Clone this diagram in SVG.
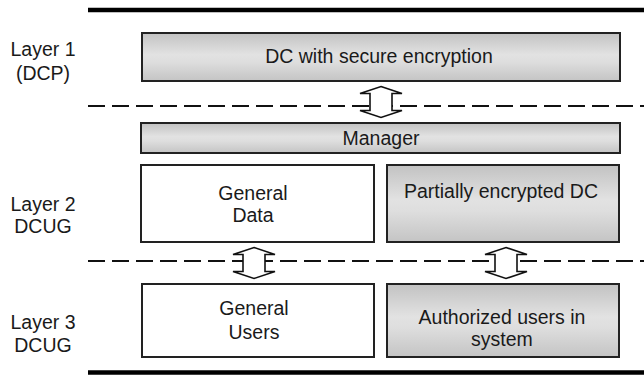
<svg xmlns="http://www.w3.org/2000/svg" width="644" height="376" viewBox="0 0 644 376">
  <style>
    .lbl { font-family: "Liberation Sans", Arial, sans-serif; font-size: 19.5px; fill: #1a1a1a; text-anchor: middle; }
    .box { stroke: #222; stroke-width: 2; }
    .gray { fill: url(#shade); }
    .white { fill: #fff; }
    .rule { stroke: #000; stroke-width: 4.5; }
    .dash { stroke: #111; stroke-width: 2.2; stroke-dasharray: 17 7; fill: none; }
    .arrow { fill: #fff; stroke: #111; stroke-width: 1.6; stroke-linejoin: miter; }
  </style>
  <defs>
    <linearGradient id="shade" x1="0" y1="0" x2="0" y2="1">
      <stop offset="0" stop-color="#c2c2c2"/>
      <stop offset="0.45" stop-color="#e2e2e2"/>
      <stop offset="0.6" stop-color="#dedede"/>
      <stop offset="1" stop-color="#c4c4c4"/>
    </linearGradient>
    <!-- hollow double-headed arrow, centred at origin, 31 tall -->
    <polygon id="dbl" class="arrow" points="0,-15.5 21,-8.5 11,-8.5 11,8.5 21,8.5 0,15.5 -21,8.5 -11,8.5 -11,-8.5 -21,-8.5"/>
  </defs>

  <rect width="644" height="376" fill="#fff"/>

  <!-- layer boundaries -->
  <g id="rules">
    <line class="rule" x1="88" y1="10" x2="644" y2="10"/>
    <line class="rule" x1="88" y1="372.5" x2="644" y2="372.5"/>
  </g>

  <!-- layer labels -->
  <g id="labels">
    <text class="lbl" x="43" y="56">Layer 1</text>
    <text class="lbl" x="43" y="80">(DCP)</text>
    <text class="lbl" x="43" y="211">Layer 2</text>
    <text class="lbl" x="43" y="233">DCUG</text>
    <text class="lbl" x="43" y="329">Layer 3</text>
    <text class="lbl" x="43" y="352">DCUG</text>
  </g>

  <g id="connectors">
    <line class="dash" x1="88" y1="106" x2="644" y2="106"/>
    <line class="dash" x1="88" y1="261" x2="644" y2="261"/>
    <use href="#dbl" x="381" y="102"/>
    <use href="#dbl" x="254" y="263"/>
    <use href="#dbl" x="506" y="263"/>
  </g>

  <g id="dc-secure">
    <rect class="box gray" x="142" y="33" width="478" height="48"/>
    <text class="lbl" x="379" y="63">DC with secure encryption</text>
  </g>

  <g id="manager">
    <rect class="box gray" x="141" y="123" width="479" height="30"/>
    <text class="lbl" x="381" y="145">Manager</text>
  </g>

  <g id="general-data">
    <rect class="box white" x="141" y="165" width="233" height="77"/>
    <text class="lbl" x="253" y="200">General</text>
    <text class="lbl" x="253" y="222">Data</text>
  </g>

  <g id="partial-dc">
    <rect class="box gray" x="387" y="165" width="232" height="77"/>
    <text class="lbl" x="501" y="198">Partially encrypted DC</text>
  </g>

  <g id="general-users">
    <rect class="box white" x="142" y="284" width="232" height="73"/>
    <text class="lbl" x="254" y="315">General</text>
    <text class="lbl" x="254" y="339">Users</text>
  </g>

  <g id="authorized-users">
    <rect class="box gray" x="387" y="284" width="232" height="73"/>
    <text class="lbl" x="502" y="324">Authorized users in</text>
    <text class="lbl" x="502" y="346">system</text>
  </g>
</svg>
